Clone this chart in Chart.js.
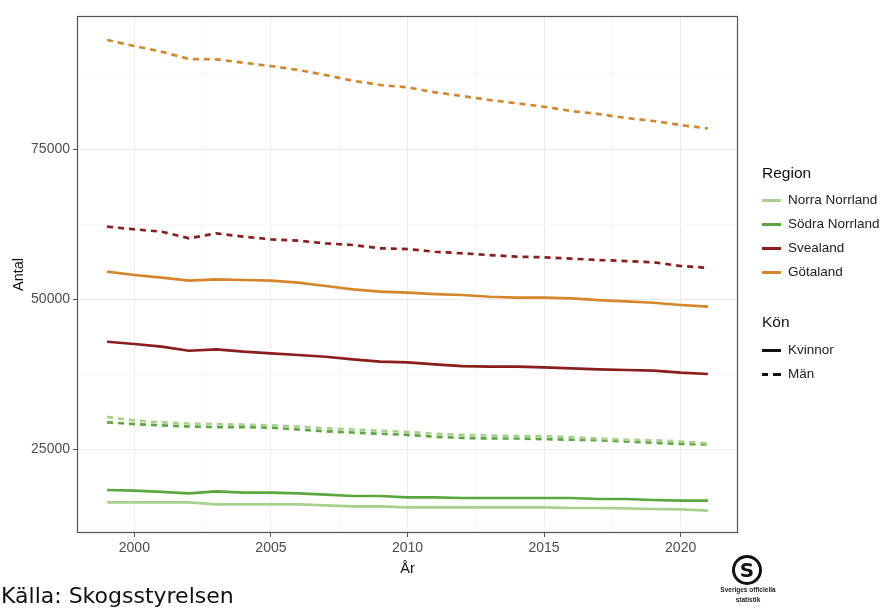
<!DOCTYPE html>
<html>
<head>
<meta charset="utf-8">
<script src="https://cdn.jsdelivr.net/npm/chart.js@4.4.1/dist/chart.umd.min.js"></script>
<style>
  body { margin: 0; background: #fff; }
  #wrap { position: relative; width: 882px; height: 612px; font-family: "Liberation Sans", Arial, sans-serif; }
  .ttl { position: absolute; left: 762px; font-size: 15.5px; color: #111; line-height: 18px; }
  .lbl { position: absolute; left: 788px; font-size: 13.5px; color: #222; line-height: 16px; }
  .key { position: absolute; left: 762px; width: 19px; height: 3px; }
  #caption { position: absolute; left: 1px; top: 583px; font-family: "DejaVu Sans", Verdana, sans-serif; font-size: 22px; color: #111; }
  #logo { position: absolute; left: 732px; top: 555px; width: 24px; height: 24px; border: 3px solid #111; border-radius: 50%;
          font: bold 20px "DejaVu Sans", sans-serif; color: #111; text-align: center; line-height: 24px; }
  .logotxt { position: absolute; left: 718px; width: 60px; text-align: center; font: bold 6.5px "Liberation Sans", Arial, sans-serif; color: #222; }
</style>
</head>
<body>
<div id="wrap">
  <canvas id="chart" width="882" height="612"></canvas>

  <div class="ttl" style="top:164px">Region</div>
  <div class="key" style="top:199px;background:#a9d18e"></div><div class="lbl" style="top:192px">Norra Norrland</div>
  <div class="key" style="top:223px;background:#5aa83c"></div><div class="lbl" style="top:216px">Södra Norrland</div>
  <div class="key" style="top:247px;background:#8c1d1d"></div><div class="lbl" style="top:240px">Svealand</div>
  <div class="key" style="top:271px;background:#d5862b"></div><div class="lbl" style="top:264px">Götaland</div>

  <div class="ttl" style="top:313px">Kön</div>
  <div class="key" style="top:349px;background:#111"></div><div class="lbl" style="top:342px">Kvinnor</div>
  <div class="key" style="top:373px;width:6px;background:#111"></div>
  <div class="key" style="top:373px;left:773px;width:8px;background:#111"></div><div class="lbl" style="top:366px">Män</div>

  <div id="caption">Källa: Skogsstyrelsen</div>
  <div id="logo">S</div>
  <div class="logotxt" style="top:586px">Sveriges officiella</div>
  <div class="logotxt" style="top:596px">statistik</div>
</div>

<script>
// Data (Antal per år)
const years = [1999, 2000, 2001, 2002, 2003, 2004, 2005, 2006, 2007, 2008, 2009, 2010,
               2011, 2012, 2013, 2014, 2015, 2016, 2017, 2018, 2019, 2020, 2021];

const norraKvinnor = [16170, 16170, 16170, 16170, 15830, 15830, 15830, 15830, 15670, 15500, 15500, 15330,
                      15330, 15330, 15330, 15330, 15330, 15220, 15220, 15170, 15050, 15000, 14770];
const norraMan = [30400, 29800, 29500, 29300, 29200, 29100, 29000, 28800, 28500, 28300, 28100, 27900,
                  27600, 27400, 27300, 27200, 27200, 27000, 26800, 26600, 26500, 26300, 26000];
const sodraKvinnor = [18220, 18100, 17900, 17670, 18000, 17770, 17770, 17670, 17430, 17220, 17220, 17000,
                      17000, 16880, 16880, 16880, 16880, 16880, 16720, 16720, 16550, 16430, 16430];
const sodraMan = [29500, 29200, 29000, 28800, 28700, 28700, 28600, 28300, 28000, 27800, 27600, 27400,
                  27100, 26900, 26800, 26800, 26700, 26600, 26500, 26300, 26100, 25900, 25800];
const sveaKvinnor = [42930, 42550, 42100, 41430, 41670, 41270, 41000, 40720, 40430, 40000, 39600, 39500,
                     39170, 38880, 38770, 38770, 38670, 38500, 38330, 38220, 38100, 37770, 37550];
const sveaMan = [62100, 61670, 61270, 60170, 61000, 60430, 60000, 59770, 59330, 59050, 58500, 58380,
                 57930, 57670, 57380, 57100, 57000, 56770, 56550, 56380, 56170, 55550, 55250];
const gotaKvinnor = [54600, 54050, 53600, 53100, 53330, 53220, 53100, 52770, 52220, 51670, 51270, 51100,
                     50880, 50720, 50430, 50270, 50270, 50170, 49880, 49670, 49430, 49050, 48770];
const gotaMan = [93220, 92220, 91270, 90050, 90000, 89430, 88880, 88220, 87380, 86430, 85720, 85330,
                 84500, 83880, 83220, 82670, 82100, 81380, 80880, 80220, 79720, 79050, 78470];

const xTicks = [2000, 2002.5, 2005, 2007.5, 2010, 2012.5, 2015, 2017.5, 2020];
const yTicks = [12500, 25000, 37500, 50000, 62500, 75000, 87500];

const colors = {
  norra: '#a9d18e',
  sodra: '#5aa83c',
  svea: '#8c1d1d',
  gota: '#d5862b'
};

function series(label, values, color, dashed) {
  return {
    label: label,
    data: years.map((y, i) => ({ x: y, y: values[i] })),
    borderColor: color,
    borderWidth: 2.7,
    borderDash: dashed ? [6, 5] : [],
    borderCapStyle: 'butt',
    pointRadius: 0,
    tension: 0,
    fill: false
  };
}

// panel border drawn on top, like theme_bw
const panelBorder = {
  id: 'panelBorder',
  afterDraw(chart) {
    const { ctx, chartArea: a } = chart;
    ctx.save();
    ctx.strokeStyle = '#555';
    ctx.lineWidth = 1.2;
    ctx.strokeRect(a.left + 0.5, a.top + 0.5, a.right - a.left - 1, a.bottom - a.top - 1);
    ctx.restore();
  }
};

const tickFont = { family: '"Liberation Sans", Arial, sans-serif', size: 14 };
const titleFont = { family: '"Liberation Sans", Arial, sans-serif', size: 14.5 };

new Chart(document.getElementById('chart'), {
  type: 'line',
  data: {
    datasets: [
      series('Norra Norrland Kvinnor', norraKvinnor, colors.norra, false),
      series('Södra Norrland Kvinnor', sodraKvinnor, colors.sodra, false),
      series('Svealand Kvinnor', sveaKvinnor, colors.svea, false),
      series('Götaland Kvinnor', gotaKvinnor, colors.gota, false),
      series('Norra Norrland Män', norraMan, colors.norra, true),
      series('Södra Norrland Män', sodraMan, colors.sodra, true),
      series('Svealand Män', sveaMan, colors.svea, true),
      series('Götaland Män', gotaMan, colors.gota, true)
    ]
  },
  options: {
    responsive: false,
    animation: false,
    devicePixelRatio: 1,
    layout: { padding: { left: 0, top: 16, right: 144, bottom: 32 } },
    plugins: {
      legend: { display: false },
      tooltip: { enabled: false }
    },
    scales: {
      x: {
        type: 'linear',
        min: 1997.9,
        max: 2022.1,
        afterBuildTicks: (scale) => { scale.ticks = xTicks.map(v => ({ value: v })); },
        afterFit: (scale) => { scale.height = 47; },
        ticks: {
          autoSkip: false,
          maxRotation: 0,
          padding: 3,
          color: '#4d4d4d',
          font: tickFont,
          callback: (v) => (v % 5 === 0 ? String(v) : '')
        },
        grid: {
          color: (c) => (c.tick && c.tick.value % 5 === 0 ? '#ebebeb' : '#f6f6f6'),
          lineWidth: 1,
          tickLength: 4,
          tickColor: (c) => (c.tick && c.tick.value % 5 === 0 ? '#555' : 'rgba(0,0,0,0)')
        },
        border: { display: false },
        title: { display: true, text: 'År', color: '#111', font: titleFont, padding: { top: 0, bottom: 2 } }
      },
      y: {
        type: 'linear',
        min: 11050,
        max: 97220,
        afterBuildTicks: (scale) => { scale.ticks = yTicks.map(v => ({ value: v })); },
        afterFit: (scale) => { scale.width = 77; },
        ticks: {
          autoSkip: false,
          padding: 3,
          color: '#4d4d4d',
          font: tickFont,
          callback: (v) => (v % 25000 === 0 ? String(v) : '')
        },
        grid: {
          color: (c) => (c.tick && c.tick.value % 25000 === 0 ? '#ebebeb' : '#f6f6f6'),
          lineWidth: 1,
          tickLength: 4,
          tickColor: (c) => (c.tick && c.tick.value % 25000 === 0 ? '#555' : 'rgba(0,0,0,0)')
        },
        border: { display: false },
        title: { display: true, text: 'Antal', color: '#111', font: titleFont, padding: { top: 10, bottom: 0 } }
      }
    }
  },
  plugins: [panelBorder]
});
</script>
</body>
</html>
